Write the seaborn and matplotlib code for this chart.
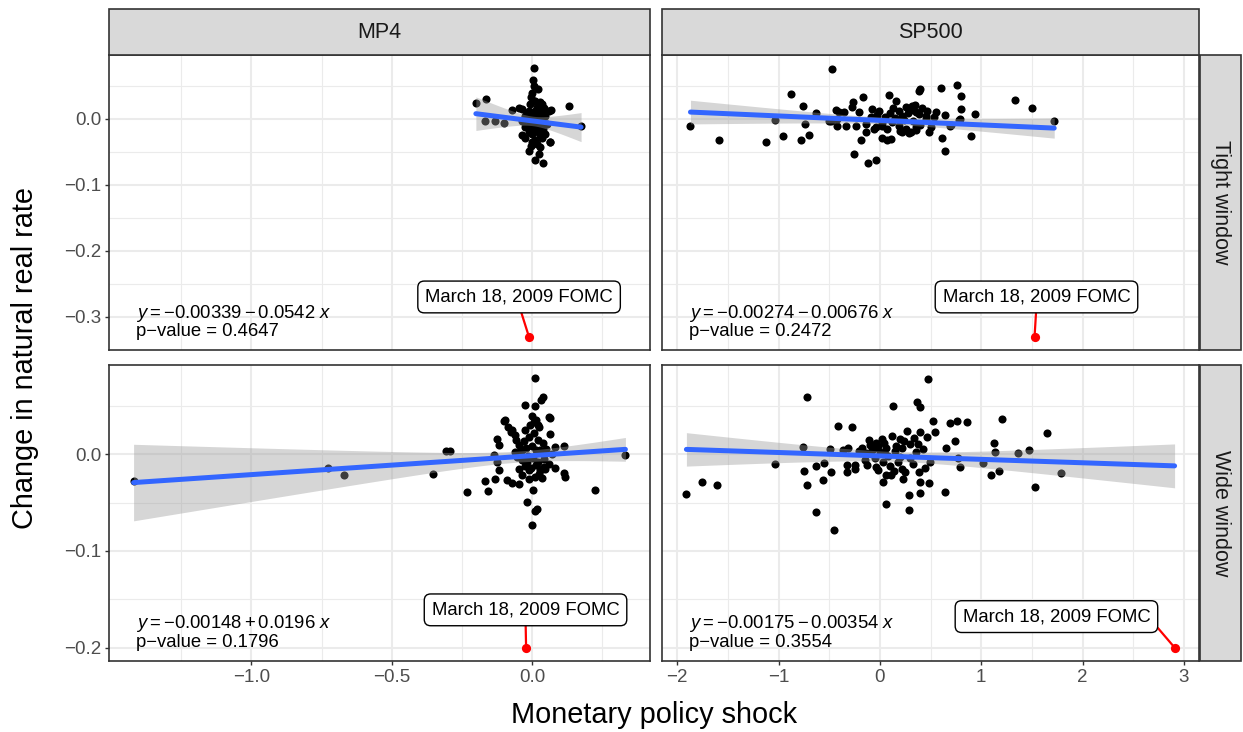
import numpy as np
import pandas as pd
import matplotlib
matplotlib.use("Agg")
import matplotlib.pyplot as plt
import seaborn as sns
from matplotlib.patches import Rectangle
from matplotlib.ticker import FixedLocator, FuncFormatter

# ---------------------------------------------------------------------------
# Data: monetary policy shock (x) vs. change in natural real rate (y)
# ---------------------------------------------------------------------------
mp4_tight_x = [0.008, -0.200, -0.163, -0.167, -0.131, -0.100, 0.131, 0.069, 0.175, 0.063,
               -0.012, 0.026, 0.012, 0.040, 0.007, 0.020, 0.000, -0.002, -0.071, -0.048,
               0.030, 0.036, -0.036, 0.060, -0.012, 0.012, 0.036, -0.024, 0.000, 0.024,
               0.048, -0.036, -0.012, 0.012, 0.036, -0.024, -0.004, 0.016, 0.040, -0.036,
               0.000, 0.030, 0.048, -0.024, 0.012, 0.036, 0.065, 0.000, 0.030, -0.006,
               0.018, -0.018, 0.006, 0.024, -0.010, 0.022, 0.052, -0.028, 0.010, 0.044,
               -0.005, 0.018, 0.004]
mp4_tight_y = [0.076, 0.0235, 0.0295, -0.003, -0.004, -0.006, 0.0195, 0.013, -0.0105, -0.0355,
               -0.0495, -0.053, -0.063, -0.067, 0.0495, 0.0455, 0.039, 0.032, 0.0135, 0.016,
               0.0245, 0.022, 0.015, 0.012, 0.012, 0.012, 0.0095, 0.0045, 0.0045, 0.0045,
               0.0045, -0.003, -0.003, -0.0055, -0.0055, -0.013, -0.013, -0.0155, -0.0155, -0.0255,
               -0.023, -0.028, -0.023, -0.030, -0.033, -0.030, -0.035, -0.0355, -0.043, 0.022,
               0.018, 0.008, 0.000, -0.010, -0.020, -0.021, -0.008, 0.000, 0.027, 0.016,
               -0.042, -0.038, 0.058]

sp500_tight_x = [-1.870, -1.585, -1.125, -1.037, -0.961, -0.879, -0.758, -0.741, -0.780, -0.700,
                 -0.633, -0.476, -0.430, -0.400, -0.420, -0.270, -0.280, -0.167, -0.256, -0.184,
                 -0.141, -0.115, -0.042, 0.089, 0.161, 0.016, 0.072, 0.105, 0.384, 0.394,
                 0.350, 0.360, 0.607, 0.761, 0.804, 0.800, 0.640, 0.613, 0.646, 0.899,
                 0.942, 0.794, 0.695, 1.335, 1.500, 1.720, 0.500, 0.450, 0.530, 0.253,
                 0.285, 0.187, 0.121, -0.042, -0.141, -0.420, -0.338, -0.239, -0.500, -0.207,
                 -0.076, -0.010, 0.187, 0.253, 0.318, 0.450, 0.384, 0.050, 0.100, 0.150,
                 0.220, 0.280, 0.330, 0.400, 0.460, 0.020, -0.090, 0.070, 0.240, 0.310,
                 0.420, 0.130, -0.030, 0.360, 0.200, 0.550, 0.480, -0.354, -0.485, 0.706,
                 0.784, 0.302, 0.220, 0.351, -0.059, 0.023]
sp500_tight_y = [-0.0105, -0.0325, -0.0355, -0.0015, -0.027, 0.037, 0.0195, -0.008, -0.032, -0.0255,
                 0.008, 0.0755, 0.013, 0.0105, 0.000, 0.0245, 0.017, 0.033, -0.053, -0.033,
                 -0.0205, -0.067, -0.063, 0.0355, 0.027, -0.0295, -0.033, -0.0305, 0.042, 0.0445,
                 0.020, 0.010, 0.046, 0.0505, 0.0335, 0.0145, 0.006, -0.0295, -0.0495, -0.026,
                 0.007, -0.0005, -0.0105, 0.0285, 0.0165, -0.003, -0.013, 0.0045, 0.002, -0.0155,
                 -0.0215, -0.0105, -0.0055, -0.013, -0.008, -0.0105, -0.0105, -0.0105, -0.003, 0.0095,
                 0.0145, 0.012, 0.012, 0.017, 0.0195, -0.0005, 0.007, 0.003, 0.008, 0.001,
                 0.004, 0.009, -0.004, -0.009, 0.012, -0.006, 0.002, -0.016, -0.002, 0.013,
                 0.016, 0.016, 0.005, -0.017, -0.019, 0.010, -0.020, 0.0095, -0.004, -0.0095,
                 -0.0015, -0.0205, -0.0205, -0.013, -0.0155, -0.0105]

mp4_wide_x = [-1.420, -0.726, -0.670, -0.354, 0.010, 0.039, 0.031, -0.026, 0.010, 0.063,
              -0.095, -0.086, 0.014, 0.024, 0.065, -0.071, -0.060, -0.125, -0.119, -0.024,
              0.081, 0.115, -0.306, -0.292, 0.333, -0.137, -0.125, -0.117, -0.131, -0.167,
              -0.230, -0.157, -0.089, -0.071, -0.048, 0.081, 0.115, 0.119, 0.226, 0.005,
              -0.018, 0.018, 0.012, 0.000, 0.036, 0.048, -0.036, -0.012, 0.012, 0.036,
              -0.048, -0.030, -0.010, 0.006, 0.020, 0.040, -0.040, -0.020, 0.000, 0.016,
              0.030, 0.050, -0.055, -0.035, -0.015, 0.004, 0.022, 0.044, -0.024, -0.004,
              0.014, 0.028, -0.045, 0.060, -0.008, 0.000, -0.060, 0.070, -0.099, -0.074,
              -0.057, 0.008, 0.020, 0.062, -0.036, 0.030, -0.018, 0.042, -0.012, 0.024]
mp4_wide_y = [-0.0277, -0.0138, -0.0218, -0.0207, 0.0784, 0.059, 0.056, 0.051, 0.050, 0.038,
              0.035, 0.028, 0.035, 0.028, 0.0207, 0.025, 0.0197, 0.0155, 0.0093, 0.025,
              0.0076, 0.0083, 0.0031, 0.0031, -0.001, -0.001, -0.008, -0.0159, -0.0252, -0.0277,
              -0.0394, -0.0383, -0.0262, -0.0294, -0.0304, -0.0138, -0.019, -0.0235, -0.0366, -0.0373,
              -0.0494, -0.0563, -0.059, -0.0729, -0.0148, -0.0148, -0.0218, -0.0252, -0.0235, -0.0245,
              0.010, 0.014, 0.018, 0.022, 0.015, 0.012, 0.004, 0.006, 0.009, 0.004,
              0.002, 0.005, -0.003, -0.006, -0.002, -0.004, -0.008, -0.005, -0.012, -0.014,
              -0.011, -0.016, -0.015, -0.010, 0.030, 0.040, 0.002, 0.000, 0.0345, 0.0228,
              0.0145, 0.0335, 0.030, 0.0387, 0.004, 0.004, -0.008, -0.0131, -0.0166, -0.020]

sp500_wide_x = [-1.910, -1.755, -1.610, -1.035, -0.724, -0.760, -0.750, -0.723, -0.633, -0.450,
                -0.630, -0.560, -0.487, -0.491, -0.555, -0.416, -0.278, -0.362, -0.311, -0.328,
                -0.243, -0.328, -0.243, -0.210, -0.142, -0.108, -0.040, 0.045, -0.057, 0.062,
                -0.125, -0.039, -0.023, 0.062, 0.028, 0.062, 0.112, 0.126, 0.265, 0.197,
                0.163, 0.300, 0.215, 0.231, 0.288, 0.284, 0.367, 0.400, 0.333, 0.400,
                0.468, 0.428, 0.520, 0.546, 0.384, 0.400, 0.394, 0.485, 0.492, 0.689,
                0.757, 0.858, 0.740, 0.648, 0.767, 0.790, 0.645, 1.208, 1.129, 1.140,
                1.020, 1.098, 1.177, 1.360, 1.475, 1.532, 1.652, 1.783, 0.478, -0.180,
                -0.080, 0.000, 0.080, 0.150, 0.220, 0.300, 0.360, -0.150, -0.050, 0.030,
                0.100, 0.180, 0.250, 0.330, -0.100, 0.020, 0.120, 0.240, 0.440, 0.050,
                0.200, -0.020, 0.140, 0.380]
sp500_wide_y = [-0.0412, -0.0284, -0.0316, -0.010, 0.059, 0.008, -0.017, -0.032, -0.060, -0.0783,
                -0.0123, -0.027, -0.0183, 0.0052, -0.0094, 0.029, 0.0285, 0.0048, 0.0066, -0.0113,
                -0.0113, -0.0183, -0.0148, 0.003, 0.0012, 0.0145, 0.012, 0.012, 0.0066, 0.0066,
                -0.0113, -0.0131, -0.0166, -0.052, -0.0291, -0.022, -0.022, 0.050, 0.0245, 0.0155,
                0.0084, 0.0102, -0.0148, -0.0255, -0.042, -0.058, 0.0537, 0.0487, 0.0173, 0.0227,
                0.0183, 0.0055, 0.0344, 0.0233, -0.0183, -0.0291, -0.040, -0.030, -0.0077, 0.0325,
                0.034, 0.0335, 0.014, 0.006, -0.0041, -0.0131, -0.039, 0.0366, 0.0115, 0.0025,
                -0.0094, -0.022, -0.0173, 0.0008, 0.004, -0.0341, 0.0223, -0.0195, 0.078, 0.006,
                0.004, 0.002, -0.002, 0.003, 0.006, -0.004, 0.002, -0.006, -0.004, -0.008,
                -0.012, -0.008, -0.018, -0.010, 0.010, 0.016, 0.019, 0.014, -0.014, 0.000,
                -0.003, 0.009, -0.017, 0.011]

# The March 18, 2009 FOMC announcement, highlighted separately
fomc_x = [-0.011, 1.526, -0.021, 2.908]
fomc_y = [-0.330, -0.330, -0.200, -0.200]

# Fitted OLS coefficients and slope p-values reported in each panel
intercepts = [-0.00339, -0.00274, -0.00148, -0.00175]
slopes = [-0.0542, -0.00676, 0.0196, -0.00354]
p_values = ["0.4647", "0.2472", "0.1796", "0.3554"]

shock_measures = ["MP4", "SP500"]
windows = ["Tight window", "Wide window"]
event_label = "March 18, 2009 FOMC"

# Label-box centres for the FOMC callout (data units) and where the leader
# line leaves the box (fraction of the text box)
label_pos = [(-0.046, -0.270), (1.545, -0.270), (-0.023, -0.161), (1.742, -0.168)]
leader_from = [(0.5, 0.0), (0.5, 0.0), (0.5, 0.0), (1.0, 0.35)]

# ---------------------------------------------------------------------------
frames = []
series = [(mp4_tight_x, mp4_tight_y), (sp500_tight_x, sp500_tight_y),
          (mp4_wide_x, mp4_wide_y), (sp500_wide_x, sp500_wide_y)]
for i, (xs, ys) in enumerate(series):
    frames.append(pd.DataFrame({"shock": xs, "dr": ys,
                                "measure": shock_measures[i % 2],
                                "window": windows[i // 2]}))
df = pd.concat(frames, ignore_index=True)

sns.set_theme(style="white")
plt.rcParams["font.family"] = ["Liberation Sans", "DejaVu Sans"]
plt.rcParams["mathtext.fontset"] = "custom"
plt.rcParams["mathtext.rm"] = "Liberation Sans"
plt.rcParams["mathtext.it"] = "Liberation Sans:italic"
plt.rcParams["axes.unicode_minus"] = True

W, H = 1243, 732
fig = plt.figure(figsize=(W / 100, H / 100), dpi=100)

col_px = [(109, 650), (662, 1199)]
row_px = [(55, 350), (365, 661)]

GRID = "#EBEBEB"
DARK = "#333333"
TICKC = "#4D4D4D"


def minus(s):
    return s.replace("-", "\u2212")


fmt1 = FuncFormatter(lambda v, p: minus(f"{v:.1f}"))
fmt0 = FuncFormatter(lambda v, p: minus(f"{v:.0f}"))

axes = {}
for r in range(2):
    for c in range(2):
        x0, x1 = col_px[c]
        y0, y1 = row_px[r]
        kw = {}
        if r == 1:
            kw["sharex"] = axes[(0, c)]
        if c == 1:
            kw["sharey"] = axes[(r, 0)]
        ax = fig.add_axes([x0 / W, 1 - y1 / H, (x1 - x0) / W, (y1 - y0) / H], **kw)
        axes[(r, c)] = ax

T_CRIT = 1.98  # two-sided 95% t quantile for the sample sizes here

for i in range(4):
    r, c = divmod(i, 2)
    ax = axes[(r, c)]
    sub = df[(df.measure == shock_measures[c]) & (df.window == windows[r])]
    x = sub["shock"].to_numpy()
    y = sub["dr"].to_numpy()
    a, b = intercepts[i], slopes[i]

    # Confidence band of the fitted line
    n = len(x)
    resid = y - (a + b * x)
    s = np.sqrt(np.sum(resid ** 2) / (n - 2))
    xbar = x.mean()
    sxx = np.sum((x - xbar) ** 2)
    lo_x = min(x.min(), fomc_x[i])
    hi_x = max(x.max(), fomc_x[i])
    grid_x = np.linspace(lo_x, hi_x, 200)
    fit = a + b * grid_x
    se = s * np.sqrt(1 / n + (grid_x - xbar) ** 2 / sxx)

    ax.set_axisbelow(True)
    sns.scatterplot(x=x, y=y, ax=ax, color="black", s=34, linewidth=0, zorder=3)
    ax.fill_between(grid_x, fit - T_CRIT * se, fit + T_CRIT * se,
                    color="#999999", alpha=0.4, linewidth=0, zorder=4)
    sns.lineplot(x=grid_x, y=fit, ax=ax, color="#3366FF", linewidth=3.6, zorder=5)

    # Highlighted event and its callout
    ax.scatter([fomc_x[i]], [fomc_y[i]], color="red", s=44, linewidth=0, zorder=6)
    ax.annotate(event_label, xy=(fomc_x[i], fomc_y[i]), xytext=label_pos[i],
                textcoords="data", ha="center", va="center", fontsize=13.3,
                color="black", zorder=7,
                bbox=dict(boxstyle="round,pad=0.4,rounding_size=0.35", fc="white",
                          ec="black", lw=1.0),
                arrowprops=dict(arrowstyle="-", color="red", lw=1.6,
                                relpos=leader_from[i], shrinkA=0, shrinkB=0))

    # Fitted equation and p-value
    op = "-" if b < 0 else "+"
    sign_a = "-" if a < 0 else ""
    eq = rf"$y = {sign_a}{abs(a):g} {op} {abs(b):g}\ x$"
    ax.text(0.05, 0.110, eq, transform=ax.transAxes, fontsize=13.3,
            ha="left", va="baseline", color="black", zorder=8)
    ax.text(0.05, 0.047, f"p\u2212value = {p_values[i]}", transform=ax.transAxes,
            fontsize=13.3, ha="left", va="baseline", color="black", zorder=8)

    ax.set_xlabel("")
    ax.set_ylabel("")

# Axis scales, ticks and grids
x_major = {0: [-1.0, -0.5, 0.0], 1: [-2, -1, 0, 1, 2, 3]}
x_minor = {0: [-1.25, -0.75, -0.25, 0.25], 1: [-1.5, -0.5, 0.5, 1.5, 2.5]}
y_major = {0: [0.0, -0.1, -0.2, -0.3], 1: [0.0, -0.1, -0.2]}
y_minor = {0: [0.05, -0.05, -0.15, -0.25], 1: [0.05, -0.05, -0.15]}

for (r, c), ax in axes.items():
    ax.margins(0.05)
    ax.xaxis.set_major_locator(FixedLocator(x_major[c]))
    ax.xaxis.set_minor_locator(FixedLocator(x_minor[c]))
    ax.yaxis.set_major_locator(FixedLocator(y_major[r]))
    ax.yaxis.set_minor_locator(FixedLocator(y_minor[r]))
    ax.xaxis.set_major_formatter(fmt1 if c == 0 else fmt0)
    ax.yaxis.set_major_formatter(fmt1)
    ax.grid(which="major", color=GRID, linewidth=1.5)
    ax.grid(which="minor", color=GRID, linewidth=0.8)
    ax.tick_params(which="minor", length=0)
    ax.tick_params(which="major", direction="out", length=3.2, width=1.0,
                   color=DARK, labelsize=13.5, labelcolor=TICKC, pad=2.5)
    ax.tick_params(axis="x", labelbottom=(r == 1), bottom=(r == 1))
    ax.tick_params(axis="y", labelleft=(c == 0), left=(c == 0))
    for sp in ax.spines.values():
        sp.set_color(DARK)
        sp.set_linewidth(1.2)
    ax.set_facecolor("white")

# Facet strips
for c in range(2):
    ax = axes[(0, c)]
    h = (55 - 9) / (row_px[0][1] - row_px[0][0])
    ax.add_patch(Rectangle((0, 1.0), 1, h, transform=ax.transAxes, clip_on=False,
                           fc="#D9D9D9", ec=DARK, lw=1.2, zorder=10))
    ax.text(0.5, 1 + h / 2, shock_measures[c], transform=ax.transAxes, ha="center",
            va="center", fontsize=15.5, color="#1A1A1A", zorder=11)
for r in range(2):
    ax = axes[(r, 1)]
    wdt = (1241 - 1200) / (col_px[1][1] - col_px[1][0])
    ax.add_patch(Rectangle((1.0 + 1 / 537, 0), wdt, 1, transform=ax.transAxes,
                           clip_on=False, fc="#D9D9D9", ec=DARK, lw=1.2, zorder=10))
    ax.text(1.0 + 1 / 537 + wdt / 2, 0.5, windows[r], transform=ax.transAxes,
            ha="center", va="center", rotation=-90, fontsize=15.5, color="#1A1A1A",
            zorder=11)

fig.text(654 / W, 1 - 715 / H, "Monetary policy shock", ha="center", va="center",
         fontsize=20.8, color="black")
fig.text(25 / W, 1 - 358 / H, "Change in natural real rate", ha="center", va="center",
         rotation=90, fontsize=20.8, color="black")

fig.savefig("out.png", dpi=100, facecolor="white")
